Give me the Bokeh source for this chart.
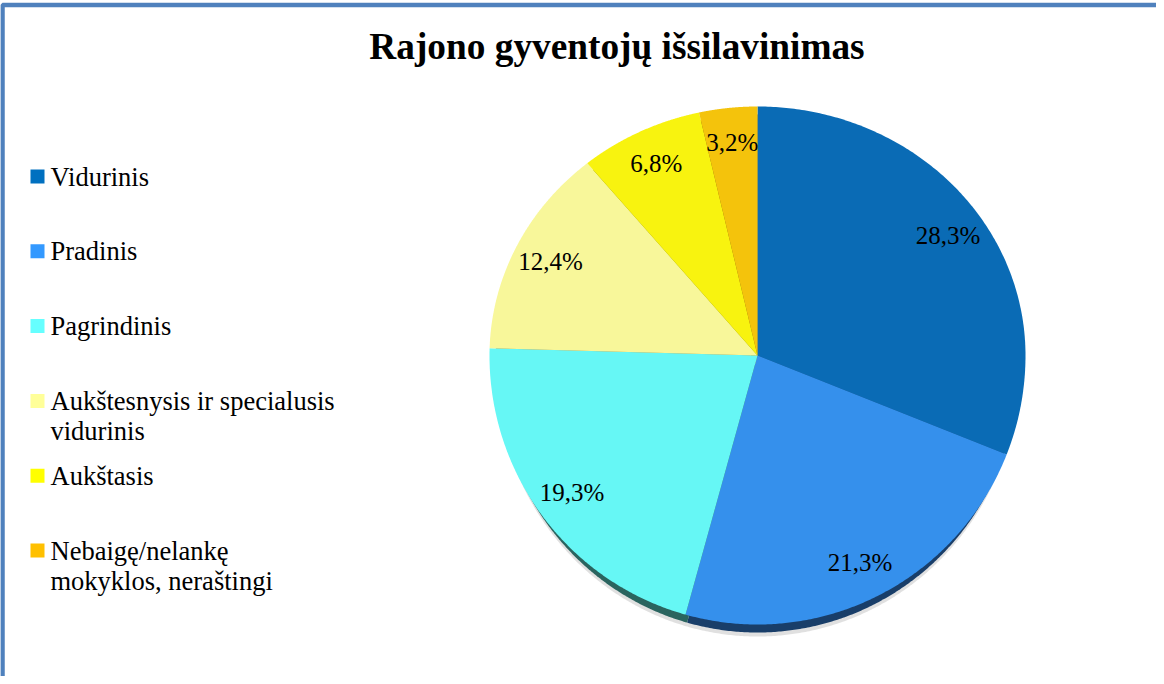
import numpy as np
from bokeh.plotting import figure
from bokeh.models import Range1d, ColumnDataSource
from bokeh.core.properties import value
from bokeh.embed import file_html
from bokeh.resources import INLINE

# ---- data ----
title = "Rajono gyventojų išsilavinimas"
categories = [
    "Vidurinis",
    "Pradinis",
    "Pagrindinis",
    "Aukštesnysis ir specialusis\nvidurinis",
    "Aukštasis",
    "Nebaigę/nelankę\nmokyklos, neraštingi",
]
values = [28.3, 21.3, 19.3, 12.4, 6.8, 3.2]
legend_colors = ["#0070C0", "#3399FF", "#66FFFF", "#FFFF99", "#FFFF00", "#FFC000"]
pie_colors = ["#0A6BB5", "#3590EC", "#66F7F5", "#F8F79A", "#F8F30F", "#F4C30C"]
side_colors = ["#0B4676", "#193E69", "#2A645F", "#8A8A50", "#8A8808", "#886C06"]

# ---- layout (pixel units) ----
W, H = 1156, 676
cx, cy = 757, 355
rx, ry_top, ry_bot = 268, 249, 269
depth = 8
FONT = value("Liberation Serif")

p = figure(width=W, height=H, x_range=Range1d(0, W), y_range=Range1d(H, 0),
           output_backend="svg", toolbar_location=None, min_border=0,
           outline_line_color=None, background_fill_color="white",
           border_fill_color="white")
p.axis.visible = False
p.grid.visible = False

vals = np.array(values, dtype=float)
frac = vals / vals.sum()
ends = np.cumsum(frac)
starts = ends - frac


def pt(theta, dy=0.0, scale=1.0, xscale=1.0):
    s = np.sin(theta)
    ry = np.where(s > 0, ry_top, ry_bot)
    return cx + scale * xscale * rx * np.cos(theta), cy - scale * ry * s + dy


def wedge(a0, a1, dy=0.0, xscale=1.0):
    # angles measured clockwise from top, as fractions of the full circle
    t = np.linspace(a0, a1, 200)
    theta = np.pi / 2 - 2 * np.pi * t
    x, y = pt(theta, dy, 1.0, xscale)
    return [cx] + list(x), [cy + dy] + list(y)


def source(dy, cols, xscale=1.0):
    xs, ys = [], []
    for a0, a1 in zip(starts, ends):
        x, y = wedge(a0, a1, dy, xscale)
        xs.append(x)
        ys.append(y)
    return ColumnDataSource(dict(xs=xs, ys=ys, color=cols))


# soft shadow, 3D side, top surface
p.patches("xs", "ys", source=source(depth + 4, ["#000000"] * len(values), 0.975),
          fill_color="color", fill_alpha=0.12, line_color=None)
p.patches("xs", "ys", source=source(depth, side_colors, 0.978),
          fill_color="color", line_color=None)
p.patches("xs", "ys", source=source(0, pie_colors),
          fill_color="color", line_color=None)

# data labels
mid = np.pi / 2 - 2 * np.pi * (starts + ends) / 2
lx, ly = pt(mid, 0.0, 0.86)
labels = [f"{v:.1f}".replace(".", ",") + "%" for v in values]
p.text(x=list(lx), y=list(ly), text=labels, text_font=FONT,
       text_font_size="25px", text_align="center", text_baseline="middle",
       text_color="#000000")

# title
p.text(x=[616.5], y=[46], text=[title], text_font=FONT, text_font_size="37.3px",
       text_font_style="bold", text_align="center",
       text_baseline="middle", text_color="#000000")

# legend
row0, step, line_gap = 176, 74.8, 30
sq_x, tx = 37, 50
for i, (lab, col) in enumerate(zip(categories, legend_colors)):
    yc = row0 + i * step
    p.rect(x=[sq_x], y=[yc], width=14, height=14, fill_color=col, line_color=None)
    for j, line in enumerate(lab.split("\n")):
        p.text(x=[tx], y=[yc + j * line_gap], text=[line], text_font=FONT,
               text_font_size="26.5px", text_align="left", text_baseline="middle",
               text_color="#000000")

# chart border (left and top edges visible in the frame)
p.line(x=[2, 2, W], y=[H, 4.5, 4.5], line_color="#4F81BD", line_width=4.5)

open("out.html", "w").write(file_html(p, INLINE))
